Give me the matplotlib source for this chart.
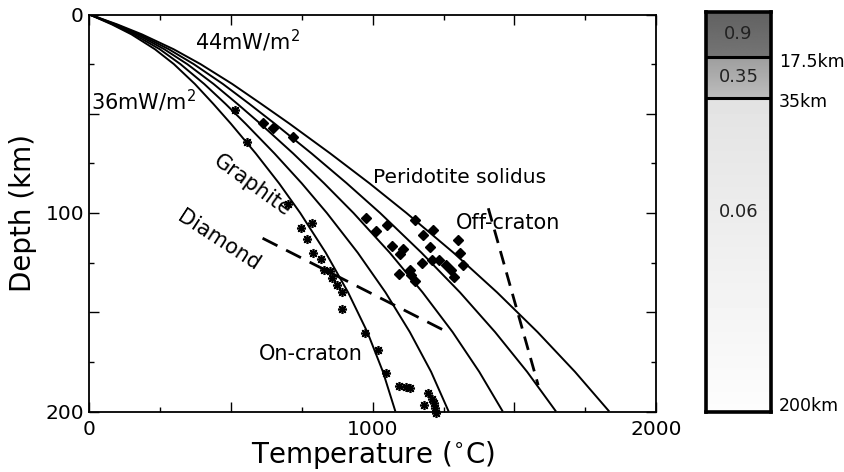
import matplotlib
matplotlib.use("Agg")
import numpy as np
import matplotlib.pyplot as plt
from matplotlib.ticker import MultipleLocator, FuncFormatter

plt.rcParams['font.family'] = ['DejaVu Sans']
plt.rcParams['mathtext.fontset'] = 'dejavusans'

# ---------------- data ----------------
depth_km = [0, 5, 10, 17.5, 25, 35, 45, 55, 70, 85, 100, 120, 140, 160, 180, 200]
geotherm_36 = [0, 79, 148, 231, 298, 372, 437, 499, 587, 669, 744, 834, 913, 981, 1036, 1080]
geotherm_38 = [0, 84, 157, 248, 321, 405, 480, 551, 653, 749, 838, 947, 1045, 1131, 1206, 1268]
geotherm_40 = [0, 89, 167, 264, 345, 438, 522, 603, 719, 828, 932, 1060, 1176, 1282, 1376, 1459]
geotherm_42 = [0, 93, 176, 280, 368, 471, 564, 654, 784, 908, 1026, 1172, 1308, 1432, 1545, 1647]
geotherm_44 = [0, 98, 185, 297, 392, 504, 606, 706, 850, 988, 1119, 1285, 1439, 1582, 1714, 1835]
geotherms = [geotherm_36, geotherm_38, geotherm_40, geotherm_42, geotherm_44]

off_craton_T = [611, 647, 717, 976, 1011, 1050, 1068, 1096, 1107, 1093, 1135, 1149, 1149,
                1177, 1213, 1202, 1174, 1208, 1234, 1258, 1276, 1286, 1300, 1308, 1318, 1131]
off_craton_z = [54.8, 57.3, 61.6, 102.5, 109.1, 106.0, 116.6, 120.7, 118.1, 130.7, 131.2, 134.2, 103.5,
                111.1, 108.6, 117.1, 125.2, 123.7, 123.7, 126.2, 128.7, 132.2, 113.6, 120.2, 126.2, 128.7]

on_craton_T = [514, 555, 702, 746, 786, 767, 790, 816, 828, 849, 857, 873, 890, 890, 972,
               1019, 1047, 1094, 1117, 1131, 1196, 1210, 1216, 1181, 1220, 1223]
on_craton_z = [48.1, 64.1, 95.5, 107.4, 104.9, 113.2, 120.3, 123.3, 128.7, 129.1, 132.9, 136.3, 139.6,
               148.5, 160.3, 169.0, 180.8, 187.2, 187.8, 188.3, 190.5, 193.9, 195.9, 196.7, 198.4, 200.6]

graphite_diamond_T = [611, 1272]
graphite_diamond_z = [112.7, 160.6]

solidus_T = [1408, 1584]
solidus_z = [97.6, 186.7]

layer_heat = ["0.9", "0.35", "0.06"]
layer_depth_labels = ["17.5km", "35km", "200km"]

# ---------------- figure ----------------
W, H = 845, 472
fig = plt.figure(figsize=(W / 100, H / 100), dpi=100)
ax = fig.add_axes([89.5 / W, 1 - 411.5 / H, (656 - 89.5) / W, (411.5 - 14.5) / H])

for g in geotherms:
    ax.plot(g, depth_km, color='black', lw=1.4, solid_capstyle='butt')

ax.plot(graphite_diamond_T, graphite_diamond_z, color='black', lw=2.0, dashes=(6, 3.5))
ax.plot(solidus_T, solidus_z, color='black', lw=2.0, dashes=(5, 3))

ax.plot(off_craton_T, off_craton_z, ls='none', marker='D', ms=5.2, color='black', clip_on=False)
ax.plot(on_craton_T, on_craton_z, ls='none', marker=(8, 2, 0), ms=6.5, mew=1.2,
        color='black', clip_on=False)

ax.set_xlim(0, 2000)
ax.set_ylim(200, 0)

ax.xaxis.set_major_locator(MultipleLocator(500))
ax.xaxis.set_minor_locator(MultipleLocator(250))
ax.yaxis.set_major_locator(MultipleLocator(50))
ax.yaxis.set_minor_locator(MultipleLocator(25))
ax.xaxis.set_major_formatter(FuncFormatter(lambda v, p: f"{int(v)}" if v % 1000 == 0 else ""))
ax.yaxis.set_major_formatter(FuncFormatter(lambda v, p: f"{int(v)}" if v % 100 == 0 else ""))
ax.tick_params(which='both', direction='in', top=True, right=True, width=1.0)
ax.tick_params(which='major', length=7, labelsize=14.5)
ax.tick_params(which='minor', length=3.5)
ax.tick_params(axis='x', pad=6)
ax.tick_params(axis='y', pad=4)
for s in ax.spines.values():
    s.set_linewidth(1.3)

ax.set_xlabel("Temperature ($^{\\circ}$C)", fontsize=20, labelpad=0)
ax.set_ylabel("Depth (km)", fontsize=20, labelpad=6)

ax.text(371, 17.9, "44mW/m$^2$", fontsize=15, ha='left', va='baseline')
ax.text(6, 48.0, "36mW/m$^2$", fontsize=15, ha='left', va='baseline')
ax.text(1308, 82, "Peridotite solidus", fontsize=14.5, ha='center', va='center')
ax.text(1477, 105, "Off-craton", fontsize=15, ha='center', va='center')
ax.text(782, 171, "On-craton", fontsize=15, ha='center', va='center')
ax.text(575, 86, "Graphite", fontsize=15, ha='center', va='center', rotation=-36)
ax.text(455, 114, "Diamond", fontsize=15, ha='center', va='center', rotation=-33)

# ---------------- right column ----------------
bx = fig.add_axes([706 / W, 1 - 412 / H, 65 / W, 400 / H])
bx.set_xlim(0, 1)
bx.set_ylim(1, 0)
bounds = [0.0, 0.113, 0.215, 1.0]
shades = [(0.38, 0.46), (0.62, 0.74), (0.89, 0.99)]
for i in range(3):
    grad = np.linspace(shades[i][0], shades[i][1], 64).reshape(-1, 1)
    bx.imshow(grad, cmap='gray', vmin=0, vmax=1, aspect='auto',
              extent=[0, 1, bounds[i + 1], bounds[i]], interpolation='bilinear')
for b in bounds[1:3]:
    bx.axhline(b, color='black', lw=2.2)
bx.set_xlim(0, 1)
bx.set_ylim(1, 0)
bx.set_xticks([])
bx.set_yticks([])
for s in bx.spines.values():
    s.set_linewidth(2.6)
label_y = [0.056, 0.163, 0.5]
for t, yy in zip(layer_heat, label_y):
    bx.text(0.5, yy, t, fontsize=13, ha='center', va='center', color='#222222')
side_y = [0.125, 0.225, 0.985]
for t, yy in zip(layer_depth_labels, side_y):
    bx.text(1.12, yy, t, fontsize=12.5, ha='left', va='center', transform=bx.transData, clip_on=False)

fig.savefig("out.png", dpi=100)
